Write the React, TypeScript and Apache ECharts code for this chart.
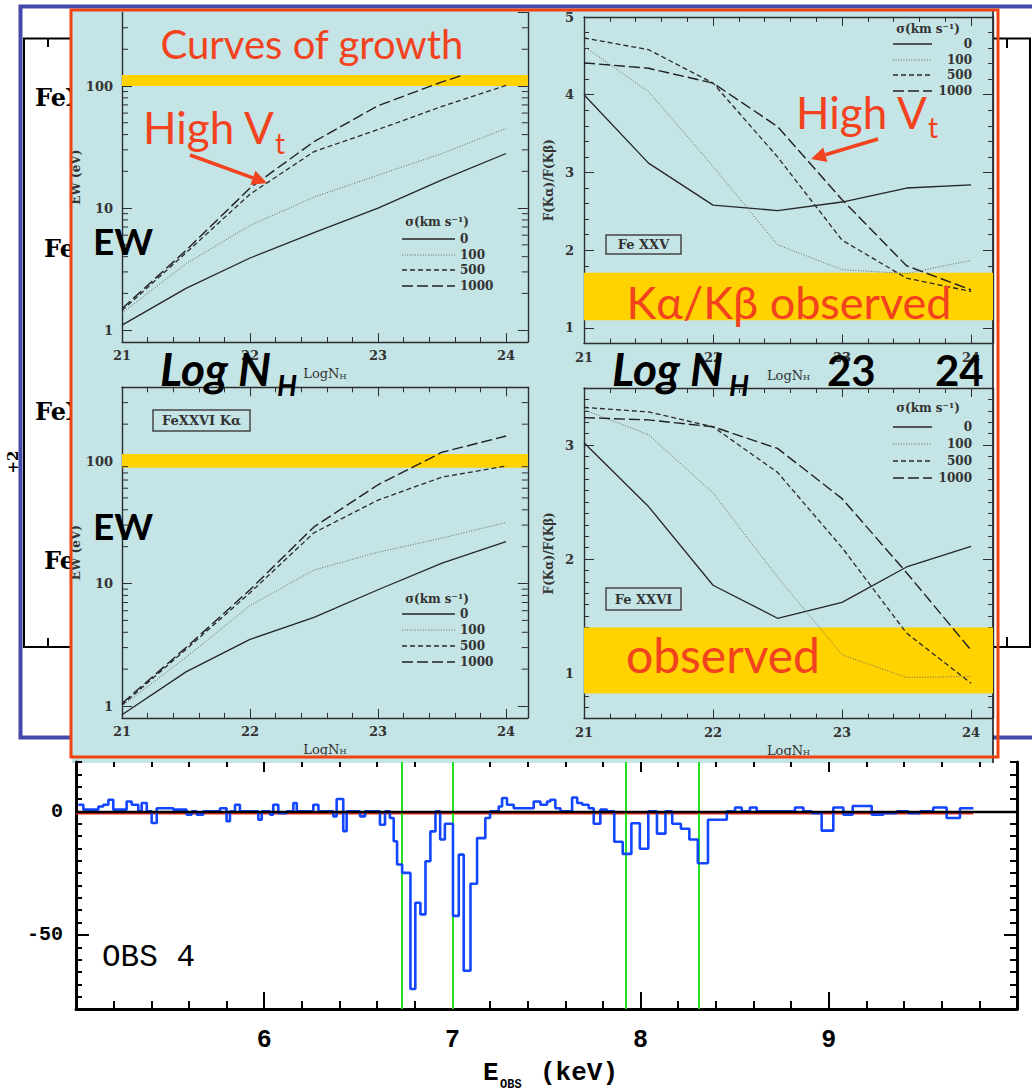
import { useEffect, useRef } from 'react';
import * as echarts from 'echarts';

// ---------- curves of growth: column density grid ----------
const logNH = [21, 21.5, 22, 22.5, 23, 23.5, 24];
const sigmaNames = ['0', '100', '500', '1000'];

// Fe XXV Kα equivalent width (eV)
const ewFe25Sigma0 = [1.1, 2.2, 3.9, 6.3, 10, 17, 28];
const ewFe25Sigma100 = [1.38, 3.5, 7.2, 12.3, 18.6, 28, 45];
const ewFe25Sigma500 = [1.45, 4.3, 13, 29, 44, 68, 101];
const ewFe25Sigma1000 = [1.5, 4.5, 14.6, 35, 69, 108, 160];

// Fe XXV Kα/Kβ flux ratio
const ratioFe25Sigma0 = [4.0, 3.12, 2.58, 2.51, 2.62, 2.8, 2.84];
const ratioFe25Sigma100 = [4.62, 4.04, 3.08, 2.07, 1.75, 1.7, 1.87];
const ratioFe25Sigma500 = [4.73, 4.58, 4.15, 3.2, 2.13, 1.64, 1.47];
const ratioFe25Sigma1000 = [4.41, 4.34, 4.15, 3.59, 2.65, 1.8, 1.49];

// Fe XXVI Kα equivalent width (eV)
const ewFe26Sigma0 = [0.85, 1.9, 3.5, 5.3, 8.9, 14.7, 22];
const ewFe26Sigma100 = [1.0, 2.5, 6.6, 12.9, 18, 23.5, 31.5];
const ewFe26Sigma500 = [1.02, 2.9, 8.4, 26, 48, 74, 91];
const ewFe26Sigma1000 = [1.05, 3.0, 8.9, 29, 64, 118, 160];

// Fe XXVI Kα/Kβ flux ratio
const ratioFe26Sigma0 = [3.02, 2.46, 1.77, 1.48, 1.62, 1.93, 2.11];
const ratioFe26Sigma100 = [3.31, 3.09, 2.58, 1.84, 1.16, 0.96, 0.97];
const ratioFe26Sigma500 = [3.33, 3.29, 3.16, 2.76, 2.1, 1.35, 0.91];
const ratioFe26Sigma1000 = [3.24, 3.22, 3.16, 2.97, 2.53, 1.88, 1.2];

// observed ranges
const ewFe25Observed = [100, 123];
const ratioFe25Observed = [1.1, 1.71];
const ewFe26Observed = [88, 114];
const ratioFe26Observed = [0.82, 1.4];

// axis ranges and ticks
const logNHRange = [21, 24.17];
const logNHTicks = [21, 22, 23, 24];
const ewRange = [0.8, 400];
const ewMinorTicks = [2, 3, 4, 5, 6, 7, 8, 9, 20, 30, 40, 50, 60, 70, 80, 90, 200, 300];
const ratioFe25Range = [0.8, 5];
const ratioFe25Ticks = [1, 2, 3, 4, 5];
const ratioFe26Range = [0.6, 3.5];
const ratioFe26Ticks = [1, 2, 3];

// ---------- OBS 4 residual spectrum ----------
const spectrumEnergy = [
  5.012, 5.039, 5.119, 5.145, 5.172, 5.198, 5.269, 5.296, 5.331, 5.349,
  5.376, 5.402, 5.429, 5.517, 5.588, 5.615, 5.641, 5.676, 5.765, 5.8,
  5.818, 5.845, 5.871, 5.969, 5.987, 6.031, 6.048, 6.075, 6.12, 6.155,
  6.173, 6.261, 6.288, 6.367, 6.385, 6.42, 6.438, 6.509, 6.536, 6.615,
  6.642, 6.668, 6.688, 6.706, 6.733, 6.777, 6.803, 6.83, 6.857, 6.883,
  6.91, 6.935, 6.96, 7.003, 7.034, 7.06, 7.096, 7.131, 7.175, 7.2,
  7.246, 7.264, 7.29, 7.326, 7.432, 7.468, 7.503, 7.52, 7.547, 7.574,
  7.636, 7.663, 7.69, 7.724, 7.751, 7.786, 7.822, 7.86, 7.905, 7.951,
  7.996, 8.041, 8.087, 8.132, 8.168, 8.214, 8.259, 8.304, 8.358, 8.458,
  8.502, 8.537, 8.581, 8.617, 8.82, 8.865, 8.909, 8.962, 9.024, 9.077,
  9.127, 9.228, 9.29, 9.361, 9.423, 9.485, 9.555, 9.626, 9.697,
];
const spectrumResidual = [
  2.7, 0.7, 2.0, 2.7, 4.7, 0.7, 4.0, 2.7, 0, 3.4,
  0, -4.7, 1.3, 0.7, -1.3, 0, -1.3, 0, 1.3, -4.0,
  0, 2.7, 0, -3.4, 0, -1.3, 2.7, -0.7, 0, 3.4,
  0, 2.7, 0, -2.0, 5.0, -8.0, 0, -2.0, 0, -5.4,
  0, -2.7, -12.1, -21.5, -24.9, -71.9, -37.0, -41.7, -20.2, -8.1,
  0, -11.4, -5.0, -42.3, -17.5, -64.5, -29.3, -10.8, -2.7, 0,
  2.0, 5.4, 2.7, 1.3, 4.0, 2.7, 4.0, 4.7, 1.3, 0,
  5.6, 3.4, 2.7, 1.3, -5.0, 0.7, 0, -12.3, -17.2, -4.8,
  -15.1, 0, -9.0, 0, -5.0, -7.0, -11.4, -21.0, -3.4, 0,
  1.6, 0, 1.6, 0, 1.6, 0, -0.7, -7.8, 1.6, -1.3,
  2.2, -1.3, -0.7, 0, -0.7, 0, 1.6, -2.7, 1.3,
];
const spectrumEnd = 9.768;
const lineEnergies = [6.733, 7.0, 7.925, 8.314];
// continuum model: [start energy, end energy, residual level]
const modelSegment = [5.0, 9.768, 0];
const energyRange = [5, 10];
const energyTicks = [6, 7, 8, 9];
const residualRange = [-80, 20];
const residualTicks = [-50, 0];

// ---------- styles ----------
const SERIF = 'DejaVu Serif';
const SANS = 'Lato';
const MONO = 'Liberation Mono';
const RED = '#F2421E';
const PANEL_BG = '#C4E4E5';
const BAND = '#FFD200';
const FRAME = '#2e2e2e';

const sigmaStyles: { type: any; width: number; color: string }[] = [
  { type: 'solid', width: 1.3, color: '#262626' },
  { type: [1, 1.6], width: 1, color: '#6a6a6a' },
  { type: [5, 3], width: 1.3, color: '#2a2a2a' },
  { type: [11, 4], width: 1.4, color: '#202020' },
];

const isInt = (v: number) => Math.abs(v - Math.round(v)) < 1e-6;

function buildOption() {
  const grids: any[] = [];
  const xAxes: any[] = [];
  const yAxes: any[] = [];
  const series: any[] = [];
  const g: any[] = [];

  const add = (list: any[], o: any) => {
    list.push(o);
    return list.length - 1;
  };

  const hidden = {
    axisLabel: { show: false },
    splitLine: { show: false },
  };

  const panels = [
    {
      left: 122, top: 12.5, width: 405.8, height: 329.5, log: true,
      yRange: ewRange, yTicks: [] as number[], yStep: 0,
      yName: 'EW (eV)', yGap: 32, showTop: false,
      curves: [ewFe25Sigma0, ewFe25Sigma100, ewFe25Sigma500, ewFe25Sigma1000],
      band: ewFe25Observed,
    },
    {
      left: 584, top: 17, width: 409, height: 326.5, log: false,
      yRange: ratioFe25Range, yTicks: ratioFe25Ticks, yStep: 0.2,
      yName: 'F(Kα)/F(Kβ)', yGap: 29, showTop: true,
      curves: [ratioFe25Sigma0, ratioFe25Sigma100, ratioFe25Sigma500, ratioFe25Sigma1000],
      band: ratioFe25Observed,
    },
    {
      left: 122, top: 387.3, width: 405.8, height: 330.6, log: true,
      yRange: ewRange, yTicks: [] as number[], yStep: 0,
      yName: 'EW (eV)', yGap: 32, showTop: true,
      curves: [ewFe26Sigma0, ewFe26Sigma100, ewFe26Sigma500, ewFe26Sigma1000],
      band: ewFe26Observed,
    },
    {
      left: 584, top: 388, width: 409, height: 330.6, log: false,
      yRange: ratioFe26Range, yTicks: ratioFe26Ticks, yStep: 0.1,
      yName: 'F(Kα)/F(Kβ)', yGap: 29, showTop: true,
      curves: [ratioFe26Sigma0, ratioFe26Sigma100, ratioFe26Sigma500, ratioFe26Sigma1000],
      band: ratioFe26Observed,
    },
  ];

  const smallLabel = { fontFamily: SERIF, fontSize: 13, fontWeight: 'bold', color: '#333' };
  const frameLine = { color: FRAME, width: 1.4 };
  const tickLine = { color: FRAME, width: 1 };

  panels.forEach((p) => {
    const gi = add(grids, { left: p.left, top: p.top, width: p.width, height: p.height, show: false });
    const xr = { min: logNHRange[0], max: logNHRange[1] };

    const xMain = add(xAxes, {
      gridIndex: gi, type: 'value', position: 'bottom', ...xr, interval: 0.2,
      axisLine: { onZero: false, lineStyle: frameLine },
      axisTick: { inside: true, length: 5, lineStyle: tickLine },
      axisLabel: { ...smallLabel, margin: 7, formatter: (v: number) => (isInt(v) ? String(Math.round(v)) : '') },
      splitLine: { show: false },
      name: '{a|LogN}{b|H}', nameLocation: 'middle', nameGap: 25,
      nameTextStyle: {
        rich: {
          a: { fontFamily: SERIF, fontSize: 13, color: '#333' },
          b: { fontFamily: SERIF, fontSize: 8, color: '#333', verticalAlign: 'bottom' },
        },
      },
    });
    add(xAxes, {
      gridIndex: gi, type: 'value', position: 'bottom', ...xr,
      axisLine: { show: false, onZero: false },
      axisTick: { inside: true, length: 9, lineStyle: tickLine, customValues: logNHTicks },
      ...hidden,
    });
    if (p.showTop) {
      add(xAxes, {
        gridIndex: gi, type: 'value', position: 'top', ...xr, interval: 0.2,
        axisLine: { onZero: false, lineStyle: frameLine },
        axisTick: { inside: true, length: 5, lineStyle: tickLine },
        ...hidden,
      });
      add(xAxes, {
        gridIndex: gi, type: 'value', position: 'top', ...xr,
        axisLine: { show: false, onZero: false },
        axisTick: { inside: true, length: 9, lineStyle: tickLine, customValues: logNHTicks },
        ...hidden,
      });
    }

    const yr = { min: p.yRange[0], max: p.yRange[1] };
    const yName = {
      name: p.yName, nameLocation: 'middle', nameGap: p.yGap,
      nameTextStyle: { fontFamily: SERIF, fontSize: 12, fontWeight: 'bold', color: '#333' },
    };
    let yMain: number;
    if (p.log) {
      yMain = add(yAxes, {
        gridIndex: gi, type: 'log', logBase: 10, position: 'left', ...yr,
        axisLine: { onZero: false, lineStyle: frameLine },
        axisTick: { inside: true, length: 10, lineStyle: tickLine },
        axisLabel: { ...smallLabel, margin: 9, showMinLabel: false, showMaxLabel: false },
        splitLine: { show: false },
        ...yName,
      });
      add(yAxes, {
        gridIndex: gi, type: 'log', logBase: 10, position: 'right', ...yr,
        axisLine: { onZero: false, lineStyle: frameLine },
        axisTick: { inside: true, length: 10, lineStyle: tickLine },
        ...hidden,
      });
      // intermediate decade ticks on both vertical frame sides
      series.push({
        type: 'custom', xAxisIndex: xMain, yAxisIndex: yMain, silent: true, clip: false, z: 3,
        data: ewMinorTicks.map((v) => [logNHRange[0], v]),
        renderItem: (_params: any, api: any) => {
          const v = api.value(1);
          const l = api.coord([logNHRange[0], v]);
          const r = api.coord([logNHRange[1], v]);
          const s = { stroke: FRAME, lineWidth: 1 };
          return {
            type: 'group',
            children: [
              { type: 'line', shape: { x1: l[0], y1: l[1], x2: l[0] + 6, y2: l[1] }, style: s },
              { type: 'line', shape: { x1: r[0], y1: r[1], x2: r[0] - 6, y2: r[1] }, style: s },
            ],
          };
        },
      });
    } else {
      yMain = add(yAxes, {
        gridIndex: gi, type: 'value', position: 'left', ...yr, interval: p.yStep,
        axisLine: { onZero: false, lineStyle: frameLine },
        axisTick: { inside: true, length: 5, lineStyle: tickLine },
        axisLabel: { ...smallLabel, margin: 10, formatter: (v: number) => (isInt(v) ? String(Math.round(v)) : '') },
        splitLine: { show: false },
        ...yName,
      });
      add(yAxes, {
        gridIndex: gi, type: 'value', position: 'left', ...yr,
        axisLine: { show: false, onZero: false },
        axisTick: { inside: true, length: 10, lineStyle: tickLine, customValues: p.yTicks },
        ...hidden,
      });
      add(yAxes, {
        gridIndex: gi, type: 'value', position: 'right', ...yr, interval: p.yStep,
        axisLine: { onZero: false, lineStyle: frameLine },
        axisTick: { inside: true, length: 5, lineStyle: tickLine },
        ...hidden,
      });
      add(yAxes, {
        gridIndex: gi, type: 'value', position: 'right', ...yr,
        axisLine: { show: false, onZero: false },
        axisTick: { inside: true, length: 10, lineStyle: tickLine, customValues: p.yTicks },
        ...hidden,
      });
    }

    // observed band
    series.push({
      type: 'line', xAxisIndex: xMain, yAxisIndex: yMain, data: [], silent: true, z: 1,
      markArea: {
        silent: true,
        itemStyle: { color: BAND },
        data: [[{ yAxis: p.band[0] }, { yAxis: p.band[1] }]],
      },
    });

    p.curves.forEach((c, k) => {
      series.push({
        type: 'line', name: sigmaNames[k], xAxisIndex: xMain, yAxisIndex: yMain,
        data: logNH.map((x, i) => [x, c[i]]),
        symbol: 'none', silent: true, z: 4,
        lineStyle: { ...sigmaStyles[k] },
      });
    });
  });

  // ---------- residual spectrum ----------
  const gs = add(grids, { left: 76, top: 762, width: 941, height: 247, show: false });
  const er = { min: energyRange[0], max: energyRange[1] };
  const rr = { min: residualRange[0], max: residualRange[1] };
  const mono = { fontFamily: MONO, fontWeight: 'bold', color: '#000' };
  const blackLine = { color: '#000', width: 3 };
  const blackTick = { color: '#000', width: 2 };

  const sx = add(xAxes, {
    gridIndex: gs, type: 'value', position: 'bottom', ...er, interval: 0.2,
    axisLine: { onZero: false, lineStyle: blackLine },
    axisTick: { inside: true, length: 8, lineStyle: blackTick },
    axisLabel: {
      ...mono, fontSize: 25, margin: 19,
      formatter: (v: number) => (isInt(v) && v > energyRange[0] && v < energyRange[1] ? String(Math.round(v)) : ''),
    },
    splitLine: { show: false },
  });
  add(xAxes, {
    gridIndex: gs, type: 'value', position: 'bottom', ...er,
    axisLine: { show: false, onZero: false },
    axisTick: { inside: true, length: 17, lineStyle: blackTick, customValues: energyTicks },
    ...hidden,
  });
  add(xAxes, {
    gridIndex: gs, type: 'value', position: 'top', ...er, interval: 0.2,
    axisLine: { show: false, onZero: false },
    axisTick: { inside: true, length: 5, lineStyle: blackTick },
    ...hidden,
  });
  add(xAxes, {
    gridIndex: gs, type: 'value', position: 'top', ...er,
    axisLine: { show: false, onZero: false },
    axisTick: { inside: true, length: 10, lineStyle: blackTick, customValues: energyTicks },
    ...hidden,
  });

  const sy = add(yAxes, {
    gridIndex: gs, type: 'value', position: 'left', ...rr, interval: 5,
    axisLine: { onZero: false, lineStyle: blackLine },
    axisTick: { inside: true, length: 6, lineStyle: blackTick },
    axisLabel: {
      ...mono, fontSize: 20, margin: 13,
      formatter: (v: number) => (residualTicks.some((t) => Math.abs(t - v) < 1e-6) ? String(Math.round(v)) : ''),
    },
    splitLine: { show: false },
  });
  add(yAxes, {
    gridIndex: gs, type: 'value', position: 'left', ...rr,
    axisLine: { show: false, onZero: false },
    axisTick: { inside: true, length: 13, lineStyle: blackTick, customValues: residualTicks },
    ...hidden,
  });
  add(yAxes, {
    gridIndex: gs, type: 'value', position: 'right', ...rr, interval: 5,
    axisLine: { onZero: false, lineStyle: blackLine },
    axisTick: { inside: true, length: 7, lineStyle: blackTick },
    ...hidden,
  });
  add(yAxes, {
    gridIndex: gs, type: 'value', position: 'right', ...rr,
    axisLine: { show: false, onZero: false },
    axisTick: { inside: true, length: 13, lineStyle: blackTick, customValues: residualTicks },
    ...hidden,
  });

  const specData = spectrumEnergy.map((e, i) => [e, spectrumResidual[i]]);
  specData.push([spectrumEnd, spectrumResidual[spectrumResidual.length - 1]]);

  // continuum model: red line drawn just beneath the black zero level
  series.push({
    type: 'custom', xAxisIndex: sx, yAxisIndex: sy, silent: true, z: 2, clip: false,
    encode: { x: [0, 1], y: 2 },
    data: [modelSegment],
    renderItem: (_params: any, api: any) => {
      const a = api.coord([api.value(0), api.value(2)]);
      const b = api.coord([api.value(1), api.value(2)]);
      return {
        type: 'line',
        shape: { x1: a[0], y1: a[1] + 2, x2: b[0], y2: b[1] + 2 },
        style: { stroke: '#F0281A', lineWidth: 2.2 },
      };
    },
  });
  // line energies
  series.push({
    type: 'line', xAxisIndex: sx, yAxisIndex: sy, data: [], silent: true,
    markLine: {
      z: 3, silent: true, symbol: ['none', 'none'], label: { show: false },
      lineStyle: { color: '#22E022', width: 2, type: 'solid' },
      data: lineEnergies.map((e) => ({ xAxis: e })),
    },
  });
  // data residuals
  series.push({
    type: 'line', xAxisIndex: sx, yAxisIndex: sy, silent: true, z: 4, symbol: 'none', step: 'end',
    data: specData,
    lineStyle: { color: '#1246FF', width: 2.6 },
  });
  // zero level
  series.push({
    type: 'line', xAxisIndex: sx, yAxisIndex: sy, data: [], silent: true,
    markLine: {
      z: 6, silent: true, symbol: ['none', 'none'], label: { show: false },
      lineStyle: { color: '#000', width: 2.4, type: 'solid' },
      data: [{ yAxis: 0 }],
    },
  });

  // ---------- decorations and annotations ----------
  const txt = (text: string, x: number, y: number, font: string, fill: string, align = 'left', z = 31, extra: any = {}) => ({
    type: 'text', z, silent: true, ...extra,
    style: { text, x, y, font, fill, textAlign: align, textVerticalAlign: 'middle' },
  });
  const line = (x1: number, y1: number, x2: number, y2: number, stroke: string, lineWidth: number, z: number, lineDash: any = null) => ({
    type: 'line', z, silent: true, shape: { x1, y1, x2, y2 }, style: { stroke, lineWidth, lineDash },
  });
  const arrow = (x1: number, y1: number, x2: number, y2: number) => {
    const dx = x2 - x1;
    const dy = y2 - y1;
    const L = Math.hypot(dx, dy);
    const ux = dx / L;
    const uy = dy / L;
    const head = 15;
    const half = 7.5;
    const bx = x2 - ux * head;
    const by = y2 - uy * head;
    return [
      line(x1, y1, bx, by, RED, 3.5, 31),
      {
        type: 'polygon', z: 31, silent: true,
        shape: { points: [[x2, y2], [bx - uy * half, by + ux * half], [bx + uy * half, by - ux * half]] },
        style: { fill: RED },
      },
    ];
  };
  const legendBlock = (tx: number, ty: number, lx1: number, lx2: number, rows: number[], labelX: number, align: string) => {
    const els: any[] = [txt('σ(km s⁻¹)', tx, ty, `bold 12px ${SERIF}`, '#333', 'center')];
    rows.forEach((y, k) => {
      const st = sigmaStyles[k];
      els.push(line(lx1, y, lx2, y, st.color, st.width, 31, Array.isArray(st.type) ? st.type : null));
      els.push(txt(sigmaNames[k], labelX, y, `bold 12px ${SERIF}`, '#333', align));
    });
    return els;
  };
  const labelBox = (x: number, y: number, w: number, h: number, text: string) => [
    { type: 'rect', z: 31, silent: true, shape: { x, y, width: w, height: h }, style: { fill: 'none', stroke: '#444', lineWidth: 1.5 } },
    txt(text, x + w / 2, y + h / 2, `bold 13px ${SERIF}`, '#333', 'center'),
  ];

  // slide frame behind the inset
  g.push({ type: 'rect', z: -20, silent: true, shape: { x: 20.5, y: 6.5, width: 1030, height: 731 }, style: { fill: '#fff', stroke: '#4349A8', lineWidth: 4 } });
  g.push({ type: 'rect', z: -19, silent: true, shape: { x: 24, y: 38.5, width: 1006, height: 608.5 }, style: { fill: 'none', stroke: '#000', lineWidth: 2 } });
  g.push(line(48, 38, 48, 47, '#000', 2, -19), line(48, 638, 48, 647, '#000', 2, -19));
  g.push(line(1007, 38, 1007, 48, '#000', 2, -19), line(1007, 637, 1007, 647, '#000', 2, -19));
  g.push(txt('FeXXV Kα', 35, 97, `bold 24px ${SERIF}`, '#000', 'left', -19));
  g.push(txt('FeXXVI Kα', 44, 248, `bold 24px ${SERIF}`, '#000', 'left', -19));
  g.push(txt('FeXXV Kβ', 35, 411, `bold 24px ${SERIF}`, '#000', 'left', -19));
  g.push(txt('FeXXVI Kβ', 44, 560, `bold 24px ${SERIF}`, '#000', 'left', -19));
  g.push({
    type: 'text', z: -19, silent: true, x: 13, y: 462, rotation: Math.PI / 2,
    style: { text: '+2', x: 0, y: 0, font: `bold 15px ${SERIF}`, fill: '#000', textAlign: 'center', textVerticalAlign: 'middle' },
  });

  // inset background and borders
  g.push({ type: 'rect', z: -18, silent: true, shape: { x: 72, y: 11, width: 921, height: 752 }, style: { fill: PANEL_BG } });
  g.push(line(993, 11, 993, 763, '#111', 1.5, -17));
  g.push({ type: 'rect', z: 40, silent: true, shape: { x: 71, y: 10, width: 927, height: 747 }, style: { fill: 'none', stroke: '#EF4312', lineWidth: 3 } });

  // headline
  g.push({ type: 'rect', z: 30, silent: true, shape: { x: 138, y: 12, width: 369, height: 63 }, style: { fill: PANEL_BG } });
  g.push(txt('Curves of growth', 312, 44, `40px ${SANS}`, RED, 'center'));

  // turbulent velocity annotations
  g.push(txt('High V', 143, 127, `44px ${SANS}`, RED));
  g.push(txt('t', 275, 143, `28px ${SANS}`, RED));
  g.push(...arrow(190, 155, 267, 183));
  g.push(txt('High V', 796, 112, `44px ${SANS}`, RED));
  g.push(txt('t', 928, 127, `28px ${SANS}`, RED));
  g.push(...arrow(878, 139, 811, 159));

  g.push(txt('Kα/Kβ observed', 789, 302, `45px ${SANS}`, RED, 'center'));
  g.push(txt('observed', 723, 654, `48px ${SANS}`, RED, 'center'));

  // bold slide labels
  g.push(txt('EW', 93, 240, `bold 37px ${SANS}`, '#000'));
  g.push(txt('EW', 93, 525, `bold 37px ${SANS}`, '#000'));
  g.push(txt('Log N', 160, 368, `italic bold 46px ${SANS}`, '#000'));
  g.push(txt('H', 277, 385, `italic bold 28px ${SANS}`, '#000'));
  g.push(txt('Log N', 612, 368, `italic bold 46px ${SANS}`, '#000'));
  g.push(txt('H', 729, 385, `italic bold 28px ${SANS}`, '#000'));
  g.push(txt('23', 827, 370, `bold 42px ${SANS}`, '#000'));
  g.push(txt('24', 935, 370, `bold 42px ${SANS}`, '#000'));

  // per-panel legends and ion labels
  g.push(...legendBlock(437, 222, 402, 455, [239, 255, 270, 286], 460, 'left'));
  g.push(...legendBlock(928, 29, 893, 932, [44, 60, 75, 91], 972, 'right'));
  g.push(...legendBlock(437, 599, 402, 455, [614, 630, 646, 662], 460, 'left'));
  g.push(...legendBlock(928, 408, 893, 932, [427, 444, 461, 478], 972, 'right'));
  g.push(...labelBox(606, 235, 75, 19, 'Fe XXV'));
  g.push(...labelBox(606, 588, 75, 22, 'Fe XXVI'));
  g.push(...labelBox(153, 410, 97, 21, 'FeXXVI Kα'));

  // spectrum labels
  g.push(txt('OBS 4', 102, 957, `31px ${MONO}`, '#000'));
  g.push(txt('E', 483, 1073, `bold 26px ${MONO}`, '#000'));
  g.push(txt('OBS', 500, 1085, `bold 12px ${MONO}`, '#000'));
  g.push(txt('(keV)', 540, 1073, `bold 26px ${MONO}`, '#000'));

  return {
    animation: false,
    textStyle: { fontFamily: SERIF },
    grid: grids,
    xAxis: xAxes,
    yAxis: yAxes,
    series,
    graphic: { elements: g },
  };
}

export default function App() {
  const ref = useRef<HTMLDivElement>(null);
  useEffect(() => {
    if (!ref.current) return;
    const chart = echarts.init(ref.current, undefined, { renderer: 'svg' });
    chart.setOption(buildOption() as any);
    return () => chart.dispose();
  }, []);
  return (
    <div
      ref={ref}
      style={{ position: 'fixed', left: 0, top: 0, width: 1032, height: 1092, background: '#fff' }}
    />
  );
}
